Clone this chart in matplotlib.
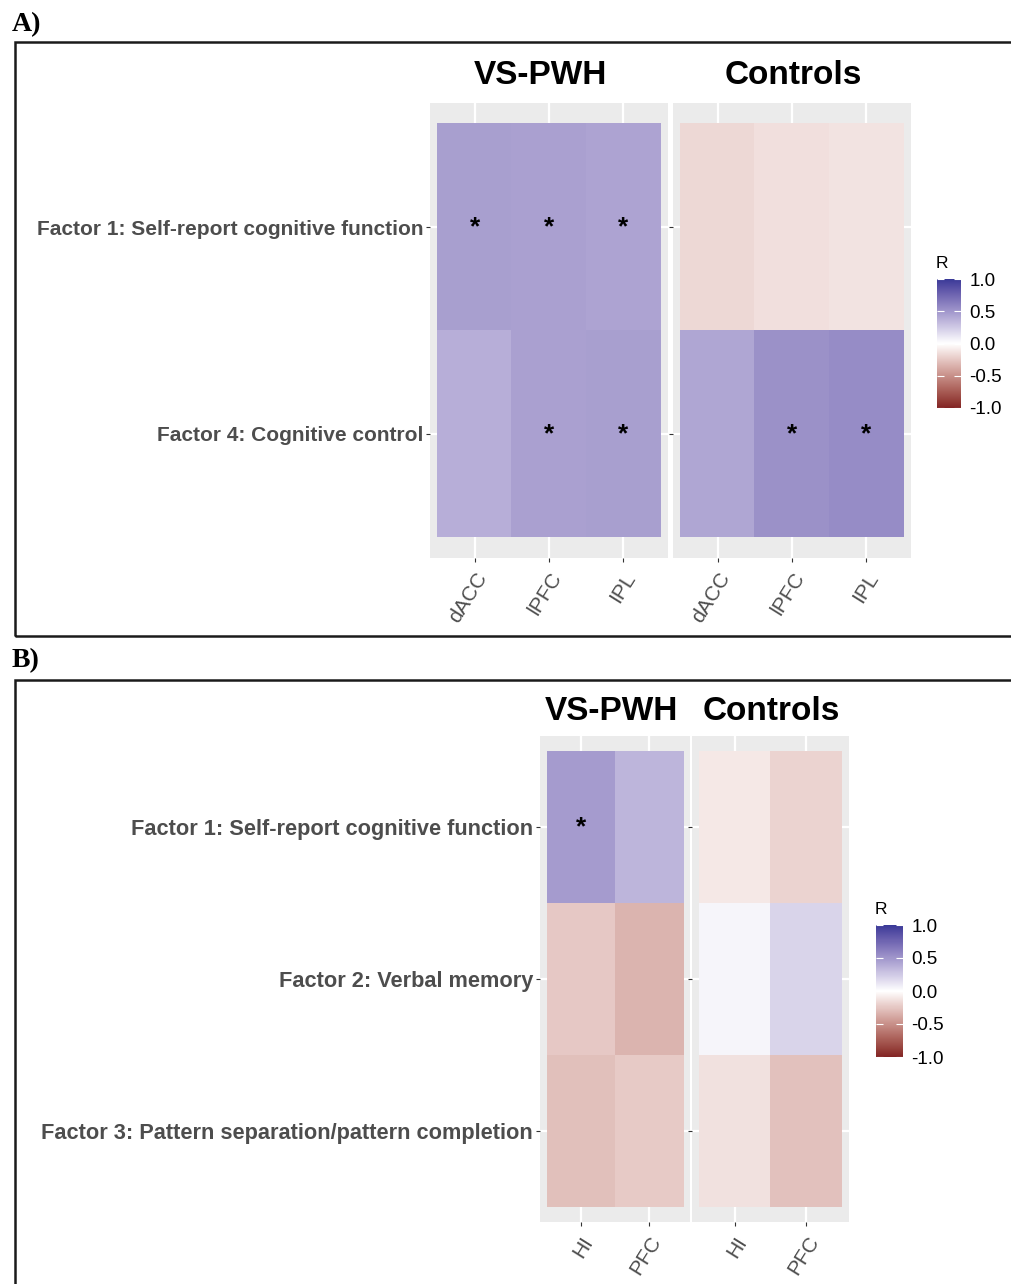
import numpy as np
import matplotlib
matplotlib.use("Agg")
import matplotlib.pyplot as plt
import matplotlib.colors as mcolors
from matplotlib.cm import ScalarMappable

# ---- data (correlation R) ----
a_rows = ["Factor 1: Self-report cognitive function", "Factor 4: Cognitive control"]
a_regions = ["dACC", "lPFC", "IPL"]
a_vs_r = [[0.46, 0.45, 0.43],
          [0.38, 0.45, 0.46]]
a_ctrl_r = [[-0.17, -0.14, -0.12],
            [0.42, 0.53, 0.55]]
a_vs_sig = [[1, 1, 1],
            [0, 1, 1]]
a_ctrl_sig = [[0, 0, 0],
              [0, 1, 1]]

b_rows = ["Factor 1: Self-report cognitive function", "Factor 2: Verbal memory",
          "Factor 3: Pattern separation/pattern completion"]
b_regions = ["HI", "PFC"]
b_vs_r = [[0.47, 0.35],
          [-0.24, -0.33],
          [-0.28, -0.23]]
b_ctrl_r = [[-0.10, -0.19],
            [0.04, 0.20],
            [-0.13, -0.27]]
b_vs_sig = [[1, 0], [0, 0], [0, 0]]
b_ctrl_sig = [[0, 0], [0, 0], [0, 0]]

groups = ["VS-PWH", "Controls"]
cbar_ticks = [-1.0, -0.5, 0.0, 0.5, 1.0]

W, H = 1011, 1284


# ---- ggplot-like gradient2 (interpolated in CIELAB) ----
_M = np.array([[0.4124, 0.3576, 0.1805], [0.2126, 0.7152, 0.0722], [0.0193, 0.1192, 0.9505]])
_WP = np.array([0.95047, 1.0, 1.08883])


def to_lab(c):
    rgb = np.array(mcolors.to_rgb(c))
    lin = np.where(rgb <= 0.04045, rgb / 12.92, ((rgb + 0.055) / 1.055) ** 2.4)
    xyz = _M @ lin / _WP
    f = np.where(xyz > (6 / 29) ** 3, np.cbrt(xyz), xyz / (3 * (6 / 29) ** 2) + 4 / 29)
    return np.array([116 * f[1] - 16, 500 * (f[0] - f[1]), 200 * (f[1] - f[2])])


def from_lab(lab):
    L, a, b = lab
    fy = (L + 16) / 116
    f = np.array([fy + a / 500, fy, fy - b / 200])
    xyz = np.where(f > 6 / 29, f ** 3, 3 * (6 / 29) ** 2 * (f - 4 / 29)) * _WP
    lin = np.linalg.solve(_M, xyz)
    lin = np.clip(lin, 0, 1)
    rgb = np.where(lin <= 0.0031308, 12.92 * lin, 1.055 * lin ** (1 / 2.4) - 0.055)
    return np.clip(rgb, 0, 1)


low, mid, high = to_lab("#832424"), to_lab("#FFFFFF"), to_lab("#3A3A98")
cols = []
for t in np.linspace(-1, 1, 256):
    end = low if t < 0 else high
    cols.append(from_lab(mid + abs(t) * (end - mid)))
cmap = mcolors.ListedColormap(cols)
norm = mcolors.Normalize(-1, 1)


def px_axes(fig, x0, y0, x1, y1):
    return fig.add_axes([x0 / W, 1 - y1 / H, (x1 - x0) / W, (y1 - y0) / H])


def heat_panel(ax, vals, sig, regions, rows, show_labels, lab_size):
    vals = np.array(vals)
    nr, nc = vals.shape
    ax.set_facecolor("#EBEBEB")
    ax.imshow(vals, cmap=cmap, norm=norm, aspect="auto", interpolation="nearest",
              extent=(0.5, nc + 0.5, nr + 0.5, 0.5), zorder=2)
    ax.set_xlim(0.4, nc + 0.6)
    ax.set_ylim(nr + 0.6, 0.4)
    ax.set_xticks(np.arange(1, nc + 1))
    ax.set_yticks(np.arange(1, nr + 1))
    ax.set_xticklabels(regions, rotation=58, ha="right", va="top",
                       rotation_mode="anchor", fontsize=15, color="#4D4D4D")
    if show_labels:
        ax.set_yticklabels(rows, fontsize=lab_size, fontweight="bold", color="#4D4D4D")
    else:
        ax.set_yticklabels([])
    ax.tick_params(length=3, width=0.8, color="#333333", pad=2)
    ax.tick_params(axis="x", pad=5)
    ax.grid(True, color="white", linewidth=1.6, zorder=1)
    ax.set_axisbelow(True)
    for s in ax.spines.values():
        s.set_visible(False)
    for i in range(nr):
        for j in range(nc):
            if sig[i][j]:
                ax.text(j + 1, i + 1, "*", ha="center", va="center", fontsize=19,
                        fontweight="bold", color="black", zorder=3)


def colorbar(fig, x0, y0, x1, y1):
    cax = px_axes(fig, x0, y0, x1, y1)
    cb = fig.colorbar(ScalarMappable(norm=norm, cmap=cmap), cax=cax, ticks=cbar_ticks)
    cb.outline.set_visible(False)
    cb.ax.set_yticklabels(["%.1f" % t for t in cbar_ticks], fontsize=13.5)
    cb.ax.tick_params(direction="in", color="white", length=5, width=0.8,
                      left=True, right=True, pad=6)
    fig.text((x0 - 1) / W, 1 - (y0 - 15) / H, "R", fontsize=12.5, ha="left", va="center")


plt.rcParams["font.family"] = ["Liberation Sans", "DejaVu Sans"]
fig = plt.figure(figsize=(W / 100, H / 100), dpi=100)

# panel frames and letters
for top, bot, letter, ly in [(42, 636, "A)", 25), (680, 1300, "B)", 661)]:
    fig.patches.append(plt.Rectangle((15 / W, 1 - bot / H), 1.2, (bot - top) / H,
                                     transform=fig.transFigure, fill=False,
                                     edgecolor="#1A1A1A", linewidth=1.8))
    fig.text(12 / W, 1 - ly / H, letter, fontsize=20, fontweight="bold",
             family="Liberation Serif", ha="left", va="center")

# ---- panel A ----
ax = px_axes(fig, 430, 103, 668, 558)
heat_panel(ax, a_vs_r, a_vs_sig, a_regions, a_rows, True, 15)
ax = px_axes(fig, 673, 103, 911, 558)
heat_panel(ax, a_ctrl_r, a_ctrl_sig, a_regions, a_rows, False, 15)
colorbar(fig, 937, 279, 961, 408)
for name, cx in zip(groups, [540, 793]):
    fig.text(cx / W, 1 - 75 / H, name, fontsize=24, fontweight="bold",
             ha="center", va="center")

# ---- panel B ----
ax = px_axes(fig, 540, 736, 690, 1222)
heat_panel(ax, b_vs_r, b_vs_sig, b_regions, b_rows, True, 15.7)
ax = px_axes(fig, 692, 736, 849, 1222)
heat_panel(ax, b_ctrl_r, b_ctrl_sig, b_regions, b_rows, False, 15.7)
colorbar(fig, 876, 925, 903, 1057)
for name, cx in zip(groups, [611, 771]):
    fig.text(cx / W, 1 - 712 / H, name, fontsize=24, fontweight="bold",
             ha="center", va="center")

fig.savefig("out.png", dpi=100, facecolor="white")
